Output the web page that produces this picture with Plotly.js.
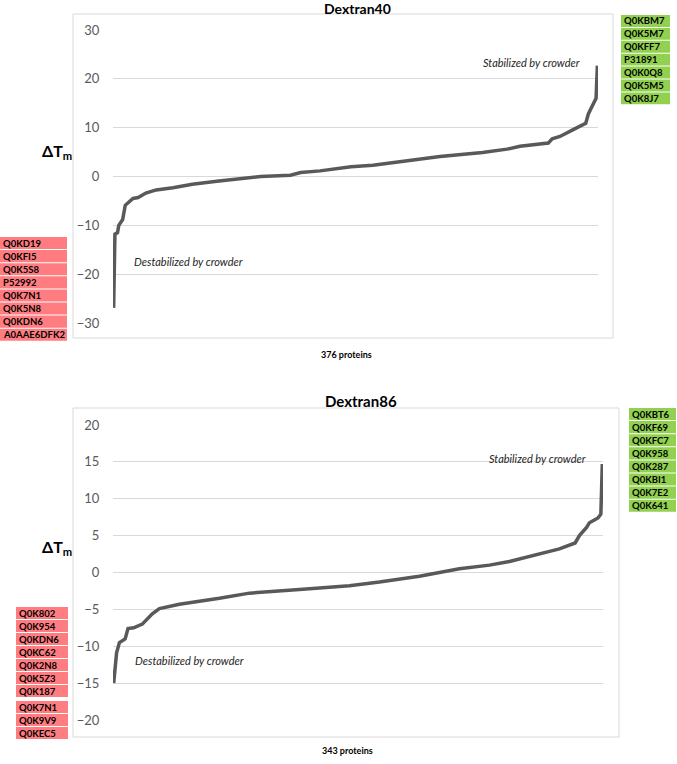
<!DOCTYPE html>
<html>
<head>
<meta charset="utf-8">
<script src="https://cdn.plot.ly/plotly-3.0.1.min.js"></script>
<style>
  html, body { margin: 0; padding: 0; background: #fff; }
  #chart { width: 677px; height: 764px; }
</style>
</head>
<body>
<div id="chart"></div>
<script>
// Sorted melting-temperature shifts (ΔTm) for each protein, sampled along the rank order.
// Dextran40: 376 proteins
const d40Rank = [1, 2, 4, 5, 8, 10, 16, 20, 26, 34, 47, 62, 81, 99, 115, 138, 146, 161, 176, 185, 202, 228, 254, 287, 306, 316, 338, 341, 347, 358, 367, 369, 373, 375, 376];
const d40Delta = [-26.9, -11.8, -11.5, -10.0, -8.8, -5.9, -4.5, -4.3, -3.4, -2.75, -2.3, -1.6, -0.97, -0.55, 0.0, 0.27, 0.8, 1.15, 1.7, 2.0, 2.3, 3.2, 4.1, 4.9, 5.6, 6.2, 6.85, 7.7, 8.2, 9.7, 10.9, 12.8, 15.2, 16.0, 22.7];

// Dextran86: 343 proteins
const d86Rank = [1, 3, 5, 9, 11, 15, 21, 28, 33, 47, 75, 96, 131, 166, 187, 215, 243, 264, 278, 299, 313, 324, 327, 332, 334, 340, 342, 343];
const d86Delta = [-15.0, -10.9, -9.5, -9.0, -7.6, -7.5, -7.0, -5.6, -4.9, -4.3, -3.5, -2.8, -2.3, -1.8, -1.3, -0.5, 0.5, 1.0, 1.5, 2.5, 3.2, 4.0, 5.0, 6.1, 6.75, 7.4, 7.9, 14.7];

// Axis ticks
const d40Ticks = [-30, -20, -10, 0, 10, 20, 30];
const d86Ticks = [-20, -15, -10, -5, 0, 5, 10, 15, 20];

// Protein identifiers at the extremes
const d40Stabilized = ["Q0KBM7", "Q0K5M7", "Q0KFF7", "P31891", "Q0K0Q8", "Q0K5M5", "Q0K8J7"];
const d40Destabilized = ["Q0KD19", "Q0KFI5", "Q0K5S8", "P52992", "Q0K7N1", "Q0K5N8", "Q0KDN6", "A0AAE6DFK2"];
const d86Stabilized = ["Q0KBT6", "Q0KF69", "Q0KFC7", "Q0K958", "Q0K287", "Q0KBI1", "Q0K7E2", "Q0K641"];
const d86Destabilized = ["Q0K802", "Q0K954", "Q0KDN6", "Q0KC62", "Q0K2N8", "Q0K5Z3", "Q0K187", "Q0K7N1", "Q0K9V9", "Q0KEC5"];

const titles = ["Dextran40", "Dextran86"];
const counts = ["376 proteins", "343 proteins"];

const W = 677, H = 764;
const px = x => x / W;
const py = y => 1 - y / H;

const FONT = "Lato, 'Open Sans', sans-serif";
const LINE = "#595959";
const GREEN = "#92d050";
const RED = "#ff7c80";

const traces = [
  { x: d40Rank, y: d40Delta, xaxis: "x", yaxis: "y", type: "scatter", mode: "lines",
    line: { color: LINE, width: 3.5 }, hoverinfo: "skip" },
  { x: d86Rank, y: d86Delta, xaxis: "x2", yaxis: "y2", type: "scatter", mode: "lines",
    line: { color: LINE, width: 3.5 }, hoverinfo: "skip" }
];

function yAxis(range, ticks, top, bottom) {
  return {
    domain: [py(bottom), py(top)], range: range, tickvals: ticks,
    showgrid: true, gridcolor: "#d9d9d9", gridwidth: 1, zeroline: false,
    showline: false, ticks: "outside", ticklen: 10, tickcolor: "rgba(0,0,0,0)",
    tickfont: { family: FONT, size: 13, color: "#595959" }, fixedrange: true
  };
}
function xAxis(n, left, right) {
  return {
    domain: [px(left), px(right)], range: [0.5, n + 0.5],
    showgrid: false, zeroline: false, showline: false, showticklabels: false, ticks: "", fixedrange: true
  };
}

const shapes = [];
const annotations = [];

// chart-area frames
shapes.push({ type: "rect", xref: "paper", yref: "paper", x0: px(73), x1: px(613), y0: py(338), y1: py(14),
  line: { color: "#d9d9d9", width: 1 }, fillcolor: "rgba(0,0,0,0)", layer: "below" });
shapes.push({ type: "rect", xref: "paper", yref: "paper", x0: px(73), x1: px(619), y0: py(737), y1: py(408),
  line: { color: "#d9d9d9", width: 1 }, fillcolor: "rgba(0,0,0,0)", layer: "below" });

// list of coloured identifier boxes
function labelList(names, left, right, top, rowH, color, gapAfter, gap) {
  let y = top;
  names.forEach((name, i) => {
    if (gapAfter !== undefined && i === gapAfter) y += gap;
    shapes.push({ type: "rect", xref: "paper", yref: "paper",
      x0: px(left), x1: px(right), y0: py(y + rowH - 1), y1: py(y),
      line: { width: 0 }, fillcolor: color });
    annotations.push({ xref: "paper", yref: "paper", x: px(left + 1), y: py(y + (rowH - 1) / 2),
      xanchor: "left", yanchor: "middle", showarrow: false, text: "<b>" + name + "</b>",
      font: { family: FONT, size: 9.5, color: "#000" } });
    y += rowH;
  });
}
labelList(d40Stabilized, 621, 670, 15, 12.9, GREEN);
labelList(d40Destabilized, 0, 67, 237, 13.1, RED);
labelList(d86Stabilized, 629, 676, 408, 13.1, GREEN);
labelList(d86Destabilized, 16, 68, 607, 13.0, RED, 7, 3);

function text(x, y, t, size, opts) {
  annotations.push(Object.assign({ xref: "paper", yref: "paper", x: px(x), y: py(y),
    xanchor: "center", yanchor: "middle", showarrow: false, text: t,
    font: { family: FONT, size: size, color: "#000" } }, opts || {}));
}

// titles
text(357, 8, "<b>" + titles[0] + "</b>", 14);
text(361, 401, "<b>" + titles[1] + "</b>", 15);
// counts
text(346, 354, "<b>" + counts[0] + "</b>", 9);
text(347, 750, "<b>" + counts[1] + "</b>", 9);
// y-axis labels
text(57, 151, "<b>ΔT<sub>m</sub></b>", 16);
text(57, 547, "<b>ΔT<sub>m</sub></b>", 16);
// region notes
const ITAL = { font: { family: FONT, size: 11, color: "#262626" } };
text(531, 62, "<i>Stabilized by crowder</i>", 11, ITAL);
text(188, 262, "<i>Destabilized by crowder</i>", 11, ITAL);
text(537, 458, "<i>Stabilized by crowder</i>", 11, ITAL);
text(190, 660, "<i>Destabilized by crowder</i>", 11, ITAL);

const layout = {
  width: W, height: H, margin: { l: 0, r: 0, t: 0, b: 0 },
  paper_bgcolor: "#fff", plot_bgcolor: "rgba(0,0,0,0)", showlegend: false,
  xaxis: xAxis(376, 113, 598),
  yaxis: yAxis([-30, 30], d40Ticks, 30, 323),
  xaxis2: xAxis(343, 113, 603),
  yaxis2: yAxis([-20, 20], d86Ticks, 425, 720),
  shapes: shapes, annotations: annotations
};

Plotly.newPlot("chart", traces, layout, { displayModeBar: false, staticPlot: true });
</script>
</body>
</html>
